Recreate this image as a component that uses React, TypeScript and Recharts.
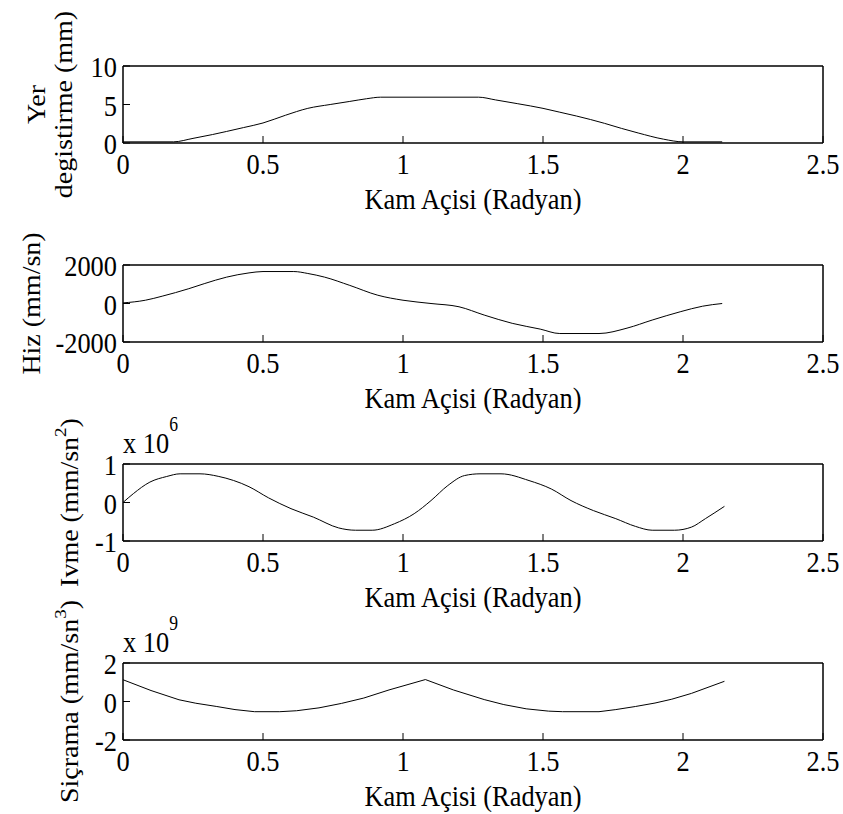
import { LineChart, Line, XAxis, YAxis } from "recharts"

const FONT = '"Liberation Serif", "Times New Roman", serif'

const xTicks = [0, 0.5, 1, 1.5, 2, 2.5]
const xLabel = "Kam Açisi (Radyan)"

// Yer degistirme (mm)
const dispAngle = [0, 0.18, 0.25, 0.32, 0.37, 0.43, 0.5, 0.58, 0.66, 0.74, 0.81, 0.87, 0.92, 1.27, 1.33, 1.41, 1.5, 1.56, 1.62, 1.72, 1.78, 1.84, 1.93, 2.0, 2.14]
const dispValue = [0.15, 0.15, 0.6, 1.1, 1.5, 2.0, 2.6, 3.6, 4.5, 5.0, 5.4, 5.75, 5.95, 5.95, 5.6, 5.1, 4.5, 4.0, 3.5, 2.55, 1.9, 1.3, 0.5, 0.15, 0.15]
const dispTicks = [0, 5, 10]

// Hiz (mm/sn)
const velAngle = [0, 0.08, 0.14, 0.235, 0.29, 0.37, 0.45, 0.5, 0.61, 0.66, 0.72, 0.81, 0.91, 1.0, 1.1, 1.2, 1.29, 1.39, 1.49, 1.56, 1.7, 1.8, 1.89, 1.99, 2.07, 2.14]
const velValue = [30, 170, 380, 770, 1030, 1370, 1590, 1660, 1660, 1560, 1370, 940, 430, 170, 0, -170, -600, -1030, -1330, -1560, -1560, -1280, -860, -430, -140, 0]
const velTicks = [-2000, 0, 2000]

// Ivme (x 10^6 mm/sn^2)
const accAngle = [0, 0.037, 0.096, 0.156, 0.204, 0.275, 0.34, 0.45, 0.52, 0.6, 0.68, 0.77, 0.83, 0.89, 0.97, 1.04, 1.1, 1.16, 1.22, 1.275, 1.35, 1.45, 1.53, 1.6, 1.68, 1.76, 1.83, 1.89, 1.97, 2.03, 2.08, 2.148]
const accValue = [0, 0.23, 0.53, 0.675, 0.745, 0.745, 0.68, 0.41, 0.12, -0.16, -0.38, -0.66, -0.72, -0.72, -0.55, -0.29, 0.05, 0.44, 0.7, 0.745, 0.745, 0.57, 0.35, 0.05, -0.21, -0.42, -0.62, -0.72, -0.72, -0.64, -0.42, -0.1]
const accTicks = [-1, 0, 1]

// Siçrama (x 10^9 mm/sn^3)
const jerkAngle = [0, 0.1, 0.2, 0.26, 0.335, 0.4, 0.47, 0.56, 0.62, 0.7, 0.78, 0.86, 0.95, 1.08, 1.18, 1.29, 1.36, 1.44, 1.52, 1.57, 1.7, 1.76, 1.83, 1.9, 1.96, 2.03, 2.148]
const jerkValue = [1.13, 0.57, 0.09, -0.09, -0.26, -0.42, -0.53, -0.53, -0.48, -0.33, -0.1, 0.18, 0.6, 1.14, 0.6, 0.1, -0.16, -0.38, -0.5, -0.53, -0.53, -0.42, -0.26, -0.08, 0.12, 0.42, 1.05]
const jerkTicks = [-2, 0, 2]

type LabelLine = { text: string; sup?: string; x: number }

const panels = [
  { angle: dispAngle, value: dispValue, ticks: dispTicks, curve: "monotone", exp: "", label: [{ text: "Yer", x: 45 }, { text: "degistirme (mm)", x: 72 }] },
  { angle: velAngle, value: velValue, ticks: velTicks, curve: "monotone", exp: "", label: [{ text: "Hiz (mm/sn)", x: 40 }] },
  { angle: accAngle, value: accValue, ticks: accTicks, curve: "monotone", exp: "6", label: [{ text: "Ivme (mm/sn", sup: "2", x: 78 }] },
  { angle: jerkAngle, value: jerkValue, ticks: jerkTicks, curve: "linear", exp: "9", label: [{ text: "Siçrama (mm/sn", sup: "3", x: 78 }] },
]

const PLOT_TOP = 66
const PLOT_H = 77
const PLOT_LEFT = 123
const PLOT_W = 700
// the reference text is drawn a bit narrow
const SQUEEZE = "scale(0.88, 1)"

const textStyle = { fontFamily: FONT, fontSize: 30, fill: "#000" }

function XTick({ x, payload }: any) {
  return (
    <text transform={`translate(${x}, ${PLOT_TOP + PLOT_H + 31}) ${SQUEEZE}`} textAnchor="middle" {...textStyle}>
      {String(payload.value)}
    </text>
  )
}

function YTick({ x, y, payload }: any) {
  return (
    <text transform={`translate(${x}, ${y + 11}) ${SQUEEZE}`} textAnchor="end" {...textStyle}>
      {String(payload.value)}
    </text>
  )
}

function YLabel({ lines }: { lines: LabelLine[] }) {
  const cy = PLOT_TOP + PLOT_H / 2
  return (
    <g>
      {lines.map((l) => (
        <text key={l.text} transform={`translate(${l.x}, ${cy}) ${SQUEEZE} rotate(-90)`} textAnchor="middle" {...textStyle} fontSize={28}>
          {l.text}
          {l.sup && <tspan dy={-14} fontSize={19}>{l.sup}</tspan>}
          {l.sup && <tspan dy={14}>)</tspan>}
        </text>
      ))}
    </g>
  )
}

function XLabel() {
  return (
    <text transform={`translate(${PLOT_LEFT + PLOT_W / 2}, ${PLOT_TOP + PLOT_H + 66}) ${SQUEEZE}`} textAnchor="middle" {...textStyle}>
      {xLabel}
    </text>
  )
}

function ExpLabel({ exp }: { exp: string }) {
  if (!exp) return null
  return (
    <text transform={`translate(${PLOT_LEFT}, ${PLOT_TOP - 11}) ${SQUEEZE}`} {...textStyle}>
      x 10<tspan dy={-22} fontSize={20}>{exp}</tspan>
    </text>
  )
}

function Panel({ p, top }: { p: (typeof panels)[number]; top: number }) {
  const data = p.angle.map((a, i) => ({ a, v: p.value[i] }))
  const domain = [p.ticks[0], p.ticks[2]]
  const axisLine = { stroke: "#000", strokeWidth: 1.5 }
  const tickLine = { stroke: "#000", strokeWidth: 1 }
  return (
    <div style={{ position: "absolute", left: 0, top, width: 843, height: 215 }}>
      <LineChart width={843} height={215} data={data} margin={{ top: 65, right: 19, bottom: 42, left: 63 }}>
        <XAxis
          dataKey="a"
          type="number"
          domain={[0, 2.5]}
          ticks={xTicks}
          interval={0}
          height={30}
          tickSize={-7}
          axisLine={axisLine}
          tickLine={tickLine}
          tick={<XTick />}
          label={() => <XLabel />}
        />
        <XAxis
          xAxisId="top"
          orientation="top"
          type="number"
          domain={[0, 2.5]}
          ticks={xTicks}
          height={1}
          tickSize={-7}
          tick={false}
          axisLine={axisLine}
          tickLine={tickLine}
          label={() => <ExpLabel exp={p.exp} />}
        />
        <YAxis
          type="number"
          domain={domain}
          ticks={p.ticks}
          interval={0}
          width={60}
          tickSize={-7}
          tickMargin={13}
          axisLine={axisLine}
          tickLine={tickLine}
          tick={<YTick />}
          label={() => <YLabel lines={p.label} />}
        />
        <YAxis
          yAxisId="right"
          orientation="right"
          type="number"
          domain={domain}
          ticks={p.ticks}
          width={1}
          tickSize={-7}
          tick={false}
          axisLine={axisLine}
          tickLine={tickLine}
        />
        <Line dataKey="v" type={p.curve as any} stroke="#000" strokeWidth={1} dot={false} isAnimationActive={false} />
      </LineChart>
    </div>
  )
}

export default function App() {
  return (
    <div style={{ position: "absolute", left: 0, top: 0, width: 843, height: 814, background: "#fff" }}>
      {panels.map((p, i) => (
        <Panel key={i} p={p} top={i * 199} />
      ))}
    </div>
  )
}
